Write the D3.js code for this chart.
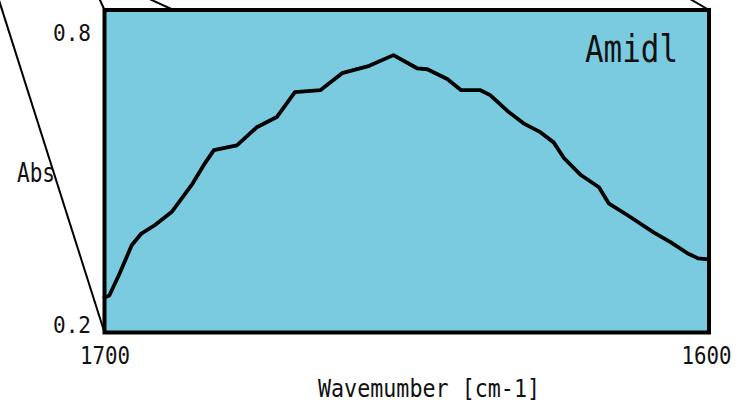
<!DOCTYPE html>
<html>
<head>
<meta charset="utf-8">
<script src="https://cdn.jsdelivr.net/npm/d3@7"></script>
<style>
  html, body { margin: 0; padding: 0; background: #ffffff; }
  svg { display: block; }
  text { font-family: "DejaVu Sans Mono", monospace; fill: #111; }
</style>
</head>
<body>
<svg id="chart" width="739" height="406"></svg>
<script>
// Amide I band absorbance spectrum (1700–1600 cm-1)
const wavenumbers = [1700.0, 1699.2, 1697.5, 1695.5, 1693.9, 1691.7, 1688.9, 1687.1, 1685.4, 1683.4,
  1681.9, 1678.1, 1674.8, 1671.5, 1668.5, 1664.3, 1660.7, 1656.2, 1652.2, 1648.3,
  1646.6, 1643.3, 1641.0, 1637.8, 1636.2, 1633.3, 1630.7, 1627.9, 1625.7, 1624.0,
  1621.2, 1618.2, 1616.6, 1613.4, 1609.1, 1606.3, 1603.5, 1601.8, 1600.0];
const absorbance = [0.272, 0.276, 0.321, 0.379, 0.403, 0.420, 0.447, 0.477, 0.506, 0.547,
  0.574, 0.584, 0.621, 0.642, 0.693, 0.697, 0.732, 0.747, 0.769, 0.742,
  0.740, 0.720, 0.697, 0.697, 0.687, 0.654, 0.629, 0.611, 0.590, 0.558,
  0.523, 0.498, 0.465, 0.440, 0.405, 0.385, 0.362, 0.352, 0.350];
const xTicks = [1700, 1600];
const yTicks = [0.2, 0.8];
const xTickLabels = ["1700", "1600"];
const bandLabel = "Amidl";
const xTitle = "Wavemumber [cm-1]";
const yTitle = "Abs";

const svg = d3.select("#chart");

// plot frame
const frame = { left: 104.5, right: 709, top: 10, bottom: 332.5 };

const x = d3.scaleLinear().domain([1700, 1600]).range([frame.left, frame.right]);
const y = d3.scaleLinear().domain([0.2, 0.8]).range([332.5, 40]);

// receding edges of the box drawn behind the panel
const edges = [
  [[frame.left, frame.bottom], [frame.left - 107, frame.bottom - 337]],
  [[frame.left, frame.top], [frame.left - 5, frame.top - 11]],
  [[frame.left + 69, frame.top], [frame.left + 45, frame.top - 11]],
  [[frame.right, frame.top], [frame.right - 19, frame.top - 11]]
];
svg.append("g")
  .selectAll("line")
  .data(edges)
  .join("line")
  .attr("x1", d => d[0][0]).attr("y1", d => d[0][1])
  .attr("x2", d => d[1][0]).attr("y2", d => d[1][1])
  .attr("stroke", "#000").attr("stroke-width", 2);

// panel background
svg.append("rect")
  .attr("x", frame.left).attr("y", frame.top)
  .attr("width", frame.right - frame.left)
  .attr("height", frame.bottom - frame.top)
  .attr("fill", "#7bcbe0");

// spectrum trace
const line = d3.line()
  .x((d, i) => x(wavenumbers[i]))
  .y(d => y(d));
svg.append("path")
  .datum(absorbance)
  .attr("d", line)
  .attr("fill", "none")
  .attr("stroke", "#000")
  .attr("stroke-width", 3.8)
  .attr("stroke-linejoin", "round")
  .attr("stroke-linecap", "round");

// panel border
svg.append("rect")
  .attr("x", frame.left).attr("y", frame.top)
  .attr("width", frame.right - frame.left)
  .attr("height", frame.bottom - frame.top)
  .attr("fill", "none")
  .attr("stroke", "#000")
  .attr("stroke-width", 4);

// y axis: labels only
const yAxis = d3.axisLeft(y).tickValues(yTicks).tickSize(0).tickPadding(0)
  .tickFormat(d => d.toFixed(1));
const gy = svg.append("g").attr("transform", "translate(91,0)").call(yAxis);
gy.select(".domain").remove();
gy.selectAll("text")
  .attr("font-family", "DejaVu Sans Mono, monospace")
  .attr("font-size", 23)
  .attr("fill", "#111")
  .attr("dy", 0)
  .attr("textLength", 38)
  .attr("lengthAdjust", "spacingAndGlyphs");

// x axis: labels only
const xAxis = d3.axisBottom(x).tickValues(xTicks).tickSize(0).tickPadding(0)
  .tickFormat((d, i) => xTickLabels[i]);
const gx = svg.append("g").attr("transform", "translate(0,364)").call(xAxis);
gx.select(".domain").remove();
gx.selectAll("text")
  .attr("font-family", "DejaVu Sans Mono, monospace")
  .attr("font-size", 24)
  .attr("fill", "#111")
  .attr("y", 0)
  .attr("dy", 0)
  .attr("textLength", 50)
  .attr("lengthAdjust", "spacingAndGlyphs");
// keep the right-hand label inside the canvas
gx.selectAll(".tick").filter(d => d === 1600).select("text").attr("x", -3);

// axis titles
svg.append("text")
  .attr("x", 17).attr("y", 182)
  .attr("font-size", 26)
  .attr("textLength", 38)
  .attr("lengthAdjust", "spacingAndGlyphs")
  .text(yTitle);

svg.append("text")
  .attr("x", 318).attr("y", 397)
  .attr("font-size", 24)
  .attr("textLength", 222)
  .attr("lengthAdjust", "spacingAndGlyphs")
  .text(xTitle);

// band label
svg.append("text")
  .attr("x", 585).attr("y", 62)
  .attr("font-size", 37)
  .attr("textLength", 93)
  .attr("lengthAdjust", "spacingAndGlyphs")
  .text(bandLabel);
</script>
</body>
</html>
